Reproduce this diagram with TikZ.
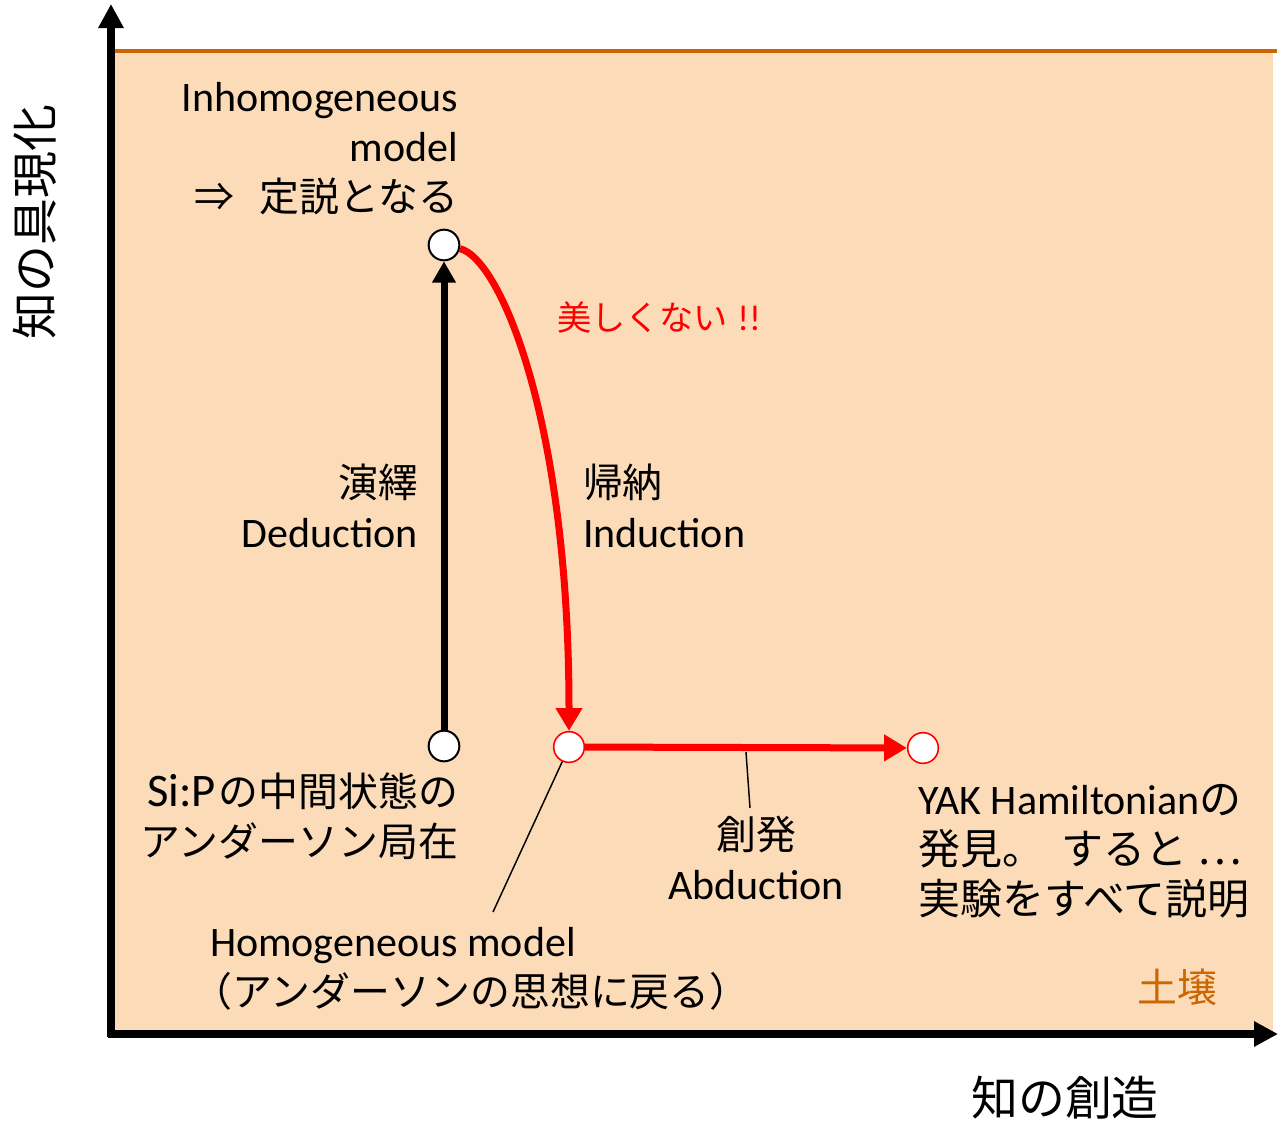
\documentclass[tikz,border=0pt]{standalone}
\usepackage{fontspec}
\setmainfont{Carlito}
\newfontfamily\jp{Noto Sans CJK JP}[Scale=0.95]
\newfontfamily\jpL{Noto Sans CJK JP}[Scale=1.0]
\usetikzlibrary{arrows.meta}
\definecolor{soil}{RGB}{252,219,185}
\definecolor{soilline}{RGB}{204,102,0}
\newcommand{\rtab}[1]{\begin{tabular}[t]{@{}r@{}}#1\end{tabular}}
\newcommand{\ltab}[1]{\begin{tabular}[t]{@{}l@{}}#1\end{tabular}}
\newcommand{\ctab}[1]{\begin{tabular}[t]{@{}c@{}}#1\end{tabular}}
\tikzset{
  dot/.style={circle, draw=black, fill=white, line width=1.5pt, minimum size=23pt, inner sep=0pt},
  rdot/.style={dot, draw=red, line width=1.2pt},
  axis/.style={line width=6pt, -{Triangle[length=18pt,width=18pt]}},
  blackarrow/.style={line width=5.25pt, -{Triangle[length=16pt,width=17pt]}},
  redarrow/.style={red, line width=5.25pt, -{Triangle[length=17pt,width=19pt]}},
  pointer/.style={line width=1.1pt},
  lbl/.style={inner sep=0pt, outer sep=0pt},
}
\begin{document}
\begin{tikzpicture}[x=0.75pt,y=-0.75pt, font=\fontsize{31.5}{37.5}\selectfont]
\useasboundingbox (0,0) rectangle (1278,1125);
% soil background
\fill[soil] (115,52) rectangle (1273,1033);
\draw[soilline, line width=3pt] (115,51) -- (1277,51);
% axes
\coordinate (ytop) at (111,4);
\coordinate (xend) at (1278,1034);
\coordinate (Ostart) at (108,1034);
\coordinate (Ybot) at (111,1037);
\draw[axis] (Ybot) -- (ytop);
\draw[axis] (Ostart) -- (xend);
% points
\node[dot] (A) at (444,245) {};
\node[dot] (B) at (444,746) {};
\node[rdot] (C) at (569,747) {};
\node[rdot] (D) at (923,748) {};
% pointer lines
\coordinate (hmtip) at (493,912);
\coordinate (abtop) at (746,752);
\coordinate (abbot) at (750,808);
\draw[pointer] (C) -- (hmtip);
\draw[pointer] (abtop) -- (abbot);
% connectors
\draw[blackarrow] (B) -- (A);
\draw[redarrow] (A) .. controls (500,258) and (569,420) .. (C);
\draw[redarrow] (C) -- (D);
% labels
\node[lbl, anchor=base east] (inh) at (458,111) {\rtab{Inhomogeneous\\model\\{\jp ⇒}\hspace{19pt}{\jp 定説となる}}};
\node[lbl, anchor=base west, text=red, font=\fontsize{27}{32}\selectfont] (ugly) at (557,330) {{\jp 美しくない}\hspace{7pt}!!};
\node[lbl, anchor=base east] (ded) at (418,497) {\rtab{{\jp 演繹}\\Deduction}};
\node[lbl, anchor=base west] (ind) at (583,497) {\ltab{{\jp 帰納}\\Induction}};
\node[lbl, anchor=base] (abd) at (756,849) {\ctab{{\jp 創発}\\Abduction}};
\node[lbl, anchor=base east] (sip) at (458,806) {\rtab{{\fontsize{35}{37.5}\selectfont Si:P}\hspace{2pt}{\jp の中間状態の}\\{\jp アンダーソン局在}}};
\node[lbl, anchor=base west] (yak) at (918,814) {\ltab{YAK Hamiltonian{\jpL の}\\{\jpL 発見。}\hspace{13pt}{\jpL すると}\hspace{8pt}{\jpL …}\\{\jpL 実験をすべて説明}}};
\node[lbl, anchor=base west] (hom) at (210,956) {\ltab{Homogeneous model\\\hspace{-13pt}{\jp （アンダーソンの思想に戻る）}}};
\node[lbl, text=soilline] (soillbl) at (1177,987) {\jp 土壌};
\node[lbl, font=\fontsize{37}{44}\selectfont] (xlbl) at (1065,1098) {\jp 知の創造};
\node[lbl, font=\fontsize{37}{44}\selectfont, rotate=90] (ylbl) at (35,222) {\jp 知の具現化};
\end{tikzpicture}
\end{document}
